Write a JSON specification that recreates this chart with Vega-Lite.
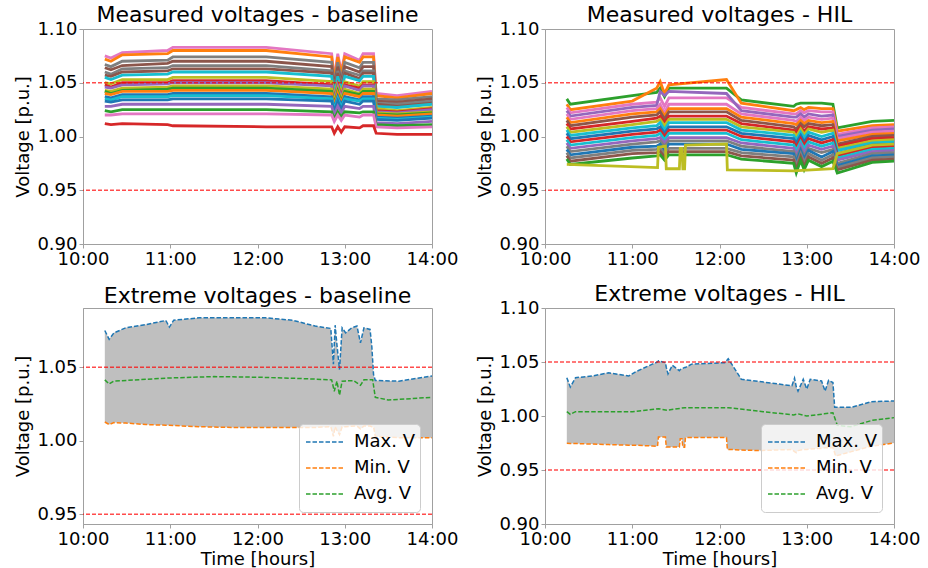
{
"$schema": "https://vega.github.io/schema/vega-lite/v6.json",
"padding": {"left": 14, "top": 3, "right": 2, "bottom": 2},
"config": {
 "font": "DejaVu Sans",
 "view": {"stroke": "#a0a0a0", "strokeWidth": 1},
 "axis": {"grid": false, "domainColor": "#a0a0a0", "tickColor": "#a0a0a0", "tickSize": 4, "labelFontSize": 18, "labelColor": "#000000", "titleFontSize": 18, "titleFontWeight": "normal", "titleColor": "#000000", "labelPadding": 2, "labelFlush": false, "labelOverlap": false},
 "title": {"fontSize": 22, "fontWeight": "normal", "color": "#000000", "frame": "group", "anchor": "middle"},
 "legend": {"title": null, "orient": "bottom-right", "offset": 12, "symbolType": "stroke", "symbolStrokeWidth": 1.5, "symbolDash": [4.5, 2], "symbolSize": 1369, "clipHeight": 26, "rowPadding": 0, "labelFontSize": 18, "labelColor": "#000000", "labelOffset": 10, "symbolOffset": 1, "fillColor": "rgba(255,255,255,0.8)", "strokeColor": "#cccccc", "cornerRadius": 4, "padding": 5}
},
"datasets": {
 "limits": [{"lim": 0.95}, {"lim": 1.05}],
 "base": [
  {"s":"b06","t":10.25,"v":1.075},{"s":"b06","t":10.32,"v":1.073},{"s":"b06","t":10.45,"v":1.078},{"s":"b06","t":10.97,"v":1.080},{"s":"b06","t":11.03,"v":1.083},{"s":"b06","t":12.1,"v":1.083},{"s":"b06","t":12.85,"v":1.077},{"s":"b06","t":12.88,"v":1.054},{"s":"b06","t":12.92,"v":1.077},{"s":"b06","t":12.96,"v":1.060},{"s":"b06","t":13.0,"v":1.077},{"s":"b06","t":13.17,"v":1.071},{"s":"b06","t":13.21,"v":1.077},{"s":"b06","t":13.33,"v":1.077},{"s":"b06","t":13.36,"v":1.040},{"s":"b06","t":13.6,"v":1.038},{"s":"b06","t":14.0,"v":1.042},
  {"s":"b01","t":10.25,"v":1.072},{"s":"b01","t":10.32,"v":1.070},{"s":"b01","t":10.45,"v":1.076},{"s":"b01","t":10.97,"v":1.077},{"s":"b01","t":11.03,"v":1.080},{"s":"b01","t":12.1,"v":1.080},{"s":"b01","t":12.85,"v":1.074},{"s":"b01","t":12.88,"v":1.052},{"s":"b01","t":12.92,"v":1.074},{"s":"b01","t":12.96,"v":1.058},{"s":"b01","t":13.0,"v":1.074},{"s":"b01","t":13.17,"v":1.069},{"s":"b01","t":13.21,"v":1.074},{"s":"b01","t":13.33,"v":1.074},{"s":"b01","t":13.36,"v":1.038},{"s":"b01","t":13.6,"v":1.036},{"s":"b01","t":14.0,"v":1.040},
  {"s":"b17","t":10.25,"v":1.067},{"s":"b17","t":10.32,"v":1.065},{"s":"b17","t":10.45,"v":1.070},{"s":"b17","t":10.97,"v":1.071},{"s":"b17","t":11.03,"v":1.074},{"s":"b17","t":12.1,"v":1.074},{"s":"b17","t":12.85,"v":1.069},{"s":"b17","t":12.88,"v":1.048},{"s":"b17","t":12.92,"v":1.069},{"s":"b17","t":12.96,"v":1.053},{"s":"b17","t":13.0,"v":1.069},{"s":"b17","t":13.17,"v":1.064},{"s":"b17","t":13.21,"v":1.069},{"s":"b17","t":13.33,"v":1.069},{"s":"b17","t":13.36,"v":1.035},{"s":"b17","t":13.6,"v":1.034},{"s":"b17","t":14.0,"v":1.037},
  {"s":"b05","t":10.25,"v":1.064},{"s":"b05","t":10.32,"v":1.062},{"s":"b05","t":10.45,"v":1.066},{"s":"b05","t":10.97,"v":1.068},{"s":"b05","t":11.03,"v":1.070},{"s":"b05","t":12.1,"v":1.070},{"s":"b05","t":12.85,"v":1.065},{"s":"b05","t":12.88,"v":1.046},{"s":"b05","t":12.92,"v":1.065},{"s":"b05","t":12.96,"v":1.050},{"s":"b05","t":13.0,"v":1.065},{"s":"b05","t":13.17,"v":1.060},{"s":"b05","t":13.21,"v":1.065},{"s":"b05","t":13.33,"v":1.065},{"s":"b05","t":13.36,"v":1.033},{"s":"b05","t":13.6,"v":1.032},{"s":"b05","t":14.0,"v":1.035},
  {"s":"b07","t":10.25,"v":1.060},{"s":"b07","t":10.32,"v":1.058},{"s":"b07","t":10.45,"v":1.063},{"s":"b07","t":10.97,"v":1.064},{"s":"b07","t":11.03,"v":1.066},{"s":"b07","t":12.1,"v":1.066},{"s":"b07","t":12.85,"v":1.061},{"s":"b07","t":12.88,"v":1.043},{"s":"b07","t":12.92,"v":1.061},{"s":"b07","t":12.96,"v":1.048},{"s":"b07","t":13.0,"v":1.061},{"s":"b07","t":13.17,"v":1.057},{"s":"b07","t":13.21,"v":1.061},{"s":"b07","t":13.33,"v":1.061},{"s":"b07","t":13.36,"v":1.031},{"s":"b07","t":13.6,"v":1.030},{"s":"b07","t":14.0,"v":1.033},
  {"s":"b15","t":10.25,"v":1.057},{"s":"b15","t":10.32,"v":1.056},{"s":"b15","t":10.45,"v":1.060},{"s":"b15","t":10.97,"v":1.061},{"s":"b15","t":11.03,"v":1.063},{"s":"b15","t":12.1,"v":1.063},{"s":"b15","t":12.85,"v":1.059},{"s":"b15","t":12.88,"v":1.041},{"s":"b15","t":12.92,"v":1.059},{"s":"b15","t":12.96,"v":1.045},{"s":"b15","t":13.0,"v":1.059},{"s":"b15","t":13.17,"v":1.054},{"s":"b15","t":13.21,"v":1.059},{"s":"b15","t":13.33,"v":1.059},{"s":"b15","t":13.36,"v":1.030},{"s":"b15","t":13.6,"v":1.028},{"s":"b15","t":14.0,"v":1.031},
  {"s":"b09","t":10.25,"v":1.055},{"s":"b09","t":10.32,"v":1.053},{"s":"b09","t":10.45,"v":1.057},{"s":"b09","t":10.97,"v":1.058},{"s":"b09","t":11.03,"v":1.060},{"s":"b09","t":12.1,"v":1.060},{"s":"b09","t":12.85,"v":1.056},{"s":"b09","t":12.88,"v":1.039},{"s":"b09","t":12.92,"v":1.056},{"s":"b09","t":12.96,"v":1.043},{"s":"b09","t":13.0,"v":1.056},{"s":"b09","t":13.17,"v":1.052},{"s":"b09","t":13.21,"v":1.056},{"s":"b09","t":13.33,"v":1.056},{"s":"b09","t":13.36,"v":1.028},{"s":"b09","t":13.6,"v":1.027},{"s":"b09","t":14.0,"v":1.030},
  {"s":"b08","t":10.25,"v":1.050},{"s":"b08","t":10.32,"v":1.049},{"s":"b08","t":10.45,"v":1.053},{"s":"b08","t":10.97,"v":1.053},{"s":"b08","t":11.03,"v":1.055},{"s":"b08","t":12.1,"v":1.055},{"s":"b08","t":12.85,"v":1.051},{"s":"b08","t":12.88,"v":1.036},{"s":"b08","t":12.92,"v":1.051},{"s":"b08","t":12.96,"v":1.040},{"s":"b08","t":13.0,"v":1.051},{"s":"b08","t":13.17,"v":1.047},{"s":"b08","t":13.21,"v":1.051},{"s":"b08","t":13.33,"v":1.051},{"s":"b08","t":13.36,"v":1.026},{"s":"b08","t":13.6,"v":1.024},{"s":"b08","t":14.0,"v":1.027},
  {"s":"b13","t":10.25,"v":1.048},{"s":"b13","t":10.32,"v":1.046},{"s":"b13","t":10.45,"v":1.050},{"s":"b13","t":10.97,"v":1.050},{"s":"b13","t":11.03,"v":1.052},{"s":"b13","t":12.1,"v":1.052},{"s":"b13","t":12.85,"v":1.048},{"s":"b13","t":12.88,"v":1.034},{"s":"b13","t":12.92,"v":1.048},{"s":"b13","t":12.96,"v":1.037},{"s":"b13","t":13.0,"v":1.048},{"s":"b13","t":13.17,"v":1.045},{"s":"b13","t":13.21,"v":1.048},{"s":"b13","t":13.33,"v":1.048},{"s":"b13","t":13.36,"v":1.024},{"s":"b13","t":13.6,"v":1.023},{"s":"b13","t":14.0,"v":1.026},
  {"s":"b04","t":10.25,"v":1.046},{"s":"b04","t":10.32,"v":1.045},{"s":"b04","t":10.45,"v":1.048},{"s":"b04","t":10.97,"v":1.049},{"s":"b04","t":11.03,"v":1.050},{"s":"b04","t":12.1,"v":1.050},{"s":"b04","t":12.85,"v":1.047},{"s":"b04","t":12.88,"v":1.033},{"s":"b04","t":12.92,"v":1.047},{"s":"b04","t":12.96,"v":1.036},{"s":"b04","t":13.0,"v":1.047},{"s":"b04","t":13.17,"v":1.043},{"s":"b04","t":13.21,"v":1.047},{"s":"b04","t":13.33,"v":1.047},{"s":"b04","t":13.36,"v":1.023},{"s":"b04","t":13.6,"v":1.022},{"s":"b04","t":14.0,"v":1.025},
  {"s":"b18","t":10.25,"v":1.043},{"s":"b18","t":10.32,"v":1.042},{"s":"b18","t":10.45,"v":1.045},{"s":"b18","t":10.97,"v":1.046},{"s":"b18","t":11.03,"v":1.047},{"s":"b18","t":12.1,"v":1.047},{"s":"b18","t":12.85,"v":1.044},{"s":"b18","t":12.88,"v":1.031},{"s":"b18","t":12.92,"v":1.044},{"s":"b18","t":12.96,"v":1.034},{"s":"b18","t":13.0,"v":1.044},{"s":"b18","t":13.17,"v":1.040},{"s":"b18","t":13.21,"v":1.044},{"s":"b18","t":13.33,"v":1.044},{"s":"b18","t":13.36,"v":1.022},{"s":"b18","t":13.6,"v":1.021},{"s":"b18","t":14.0,"v":1.023},
  {"s":"b02","t":10.25,"v":1.042},{"s":"b02","t":10.32,"v":1.040},{"s":"b02","t":10.45,"v":1.043},{"s":"b02","t":10.97,"v":1.044},{"s":"b02","t":11.03,"v":1.045},{"s":"b02","t":12.1,"v":1.045},{"s":"b02","t":12.85,"v":1.042},{"s":"b02","t":12.88,"v":1.029},{"s":"b02","t":12.92,"v":1.042},{"s":"b02","t":12.96,"v":1.032},{"s":"b02","t":13.0,"v":1.042},{"s":"b02","t":13.17,"v":1.039},{"s":"b02","t":13.21,"v":1.042},{"s":"b02","t":13.33,"v":1.042},{"s":"b02","t":13.36,"v":1.021},{"s":"b02","t":13.6,"v":1.020},{"s":"b02","t":14.0,"v":1.022},
  {"s":"b11","t":10.25,"v":1.040},{"s":"b11","t":10.32,"v":1.039},{"s":"b11","t":10.45,"v":1.042},{"s":"b11","t":10.97,"v":1.042},{"s":"b11","t":11.03,"v":1.043},{"s":"b11","t":12.1,"v":1.043},{"s":"b11","t":12.85,"v":1.040},{"s":"b11","t":12.88,"v":1.028},{"s":"b11","t":12.92,"v":1.040},{"s":"b11","t":12.96,"v":1.031},{"s":"b11","t":13.0,"v":1.040},{"s":"b11","t":13.17,"v":1.037},{"s":"b11","t":13.21,"v":1.040},{"s":"b11","t":13.33,"v":1.040},{"s":"b11","t":13.36,"v":1.020},{"s":"b11","t":13.6,"v":1.019},{"s":"b11","t":14.0,"v":1.021},
  {"s":"b00","t":10.25,"v":1.037},{"s":"b00","t":10.32,"v":1.036},{"s":"b00","t":10.45,"v":1.039},{"s":"b00","t":10.97,"v":1.039},{"s":"b00","t":11.03,"v":1.040},{"s":"b00","t":12.1,"v":1.040},{"s":"b00","t":12.85,"v":1.037},{"s":"b00","t":12.88,"v":1.026},{"s":"b00","t":12.92,"v":1.037},{"s":"b00","t":12.96,"v":1.029},{"s":"b00","t":13.0,"v":1.037},{"s":"b00","t":13.17,"v":1.034},{"s":"b00","t":13.21,"v":1.037},{"s":"b00","t":13.33,"v":1.037},{"s":"b00","t":13.36,"v":1.018},{"s":"b00","t":13.6,"v":1.017},{"s":"b00","t":14.0,"v":1.019},
  {"s":"b19","t":10.25,"v":1.035},{"s":"b19","t":10.32,"v":1.034},{"s":"b19","t":10.45,"v":1.037},{"s":"b19","t":10.97,"v":1.037},{"s":"b19","t":11.03,"v":1.038},{"s":"b19","t":12.1,"v":1.038},{"s":"b19","t":12.85,"v":1.035},{"s":"b19","t":12.88,"v":1.025},{"s":"b19","t":12.92,"v":1.035},{"s":"b19","t":12.96,"v":1.027},{"s":"b19","t":13.0,"v":1.035},{"s":"b19","t":13.17,"v":1.033},{"s":"b19","t":13.21,"v":1.035},{"s":"b19","t":13.33,"v":1.035},{"s":"b19","t":13.36,"v":1.017},{"s":"b19","t":13.6,"v":1.016},{"s":"b19","t":14.0,"v":1.018},
  {"s":"b10","t":10.25,"v":1.033},{"s":"b10","t":10.32,"v":1.032},{"s":"b10","t":10.45,"v":1.034},{"s":"b10","t":10.97,"v":1.034},{"s":"b10","t":11.03,"v":1.035},{"s":"b10","t":12.1,"v":1.035},{"s":"b10","t":12.85,"v":1.033},{"s":"b10","t":12.88,"v":1.023},{"s":"b10","t":12.92,"v":1.033},{"s":"b10","t":12.96,"v":1.025},{"s":"b10","t":13.0,"v":1.033},{"s":"b10","t":13.17,"v":1.030},{"s":"b10","t":13.21,"v":1.033},{"s":"b10","t":13.33,"v":1.033},{"s":"b10","t":13.36,"v":1.016},{"s":"b10","t":13.6,"v":1.015},{"s":"b10","t":14.0,"v":1.017},
  {"s":"b14","t":10.25,"v":1.028},{"s":"b14","t":10.32,"v":1.028},{"s":"b14","t":10.45,"v":1.030},{"s":"b14","t":10.97,"v":1.030},{"s":"b14","t":11.03,"v":1.030},{"s":"b14","t":12.1,"v":1.030},{"s":"b14","t":12.85,"v":1.028},{"s":"b14","t":12.88,"v":1.020},{"s":"b14","t":12.92,"v":1.028},{"s":"b14","t":12.96,"v":1.022},{"s":"b14","t":13.0,"v":1.028},{"s":"b14","t":13.17,"v":1.026},{"s":"b14","t":13.21,"v":1.028},{"s":"b14","t":13.33,"v":1.028},{"s":"b14","t":13.36,"v":1.013},{"s":"b14","t":13.6,"v":1.012},{"s":"b14","t":14.0,"v":1.014},
  {"s":"b12","t":10.25,"v":1.024},{"s":"b12","t":10.32,"v":1.023},{"s":"b12","t":10.45,"v":1.025},{"s":"b12","t":10.97,"v":1.025},{"s":"b12","t":11.03,"v":1.025},{"s":"b12","t":12.1,"v":1.025},{"s":"b12","t":12.85,"v":1.023},{"s":"b12","t":12.88,"v":1.016},{"s":"b12","t":12.92,"v":1.023},{"s":"b12","t":12.96,"v":1.018},{"s":"b12","t":13.0,"v":1.023},{"s":"b12","t":13.17,"v":1.022},{"s":"b12","t":13.21,"v":1.023},{"s":"b12","t":13.33,"v":1.023},{"s":"b12","t":13.36,"v":1.011},{"s":"b12","t":13.6,"v":1.010},{"s":"b12","t":14.0,"v":1.011},
  {"s":"b16","t":10.25,"v":1.020},{"s":"b16","t":10.32,"v":1.020},{"s":"b16","t":10.45,"v":1.021},{"s":"b16","t":10.97,"v":1.021},{"s":"b16","t":11.03,"v":1.021},{"s":"b16","t":12.1,"v":1.021},{"s":"b16","t":12.85,"v":1.020},{"s":"b16","t":12.88,"v":1.014},{"s":"b16","t":12.92,"v":1.020},{"s":"b16","t":12.96,"v":1.015},{"s":"b16","t":13.0,"v":1.020},{"s":"b16","t":13.17,"v":1.018},{"s":"b16","t":13.21,"v":1.020},{"s":"b16","t":13.33,"v":1.020},{"s":"b16","t":13.36,"v":1.009},{"s":"b16","t":13.6,"v":1.008},{"s":"b16","t":14.0,"v":1.009},
  {"s":"b03","t":10.25,"v":1.012},{"s":"b03","t":10.32,"v":1.011},{"s":"b03","t":10.45,"v":1.012},{"s":"b03","t":10.97,"v":1.011},{"s":"b03","t":11.03,"v":1.010},{"s":"b03","t":12.1,"v":1.009},{"s":"b03","t":12.85,"v":1.009},{"s":"b03","t":12.88,"v":1.003},{"s":"b03","t":12.92,"v":1.009},{"s":"b03","t":12.96,"v":1.004},{"s":"b03","t":13.0,"v":1.009},{"s":"b03","t":13.17,"v":1.008},{"s":"b03","t":13.21,"v":1.010},{"s":"b03","t":13.33,"v":1.010},{"s":"b03","t":13.36,"v":1.003},{"s":"b03","t":13.6,"v":1.002},{"s":"b03","t":14.0,"v":1.002}
 ],
 "hil": [
  {"s":"h02","t":10.25,"v":1.035},{"s":"h02","t":10.29,"v":1.030},{"s":"h02","t":11.0,"v":1.038},{"s":"h02","t":11.28,"v":1.041},{"s":"h02","t":11.32,"v":1.045},{"s":"h02","t":11.37,"v":1.037},{"s":"h02","t":11.42,"v":1.045},{"s":"h02","t":12.08,"v":1.045},{"s":"h02","t":12.25,"v":1.034},{"s":"h02","t":12.85,"v":1.028},{"s":"h02","t":12.88,"v":1.030},{"s":"h02","t":12.93,"v":1.031},{"s":"h02","t":12.97,"v":1.031},{"s":"h02","t":13.02,"v":1.031},{"s":"h02","t":13.17,"v":1.031},{"s":"h02","t":13.3,"v":1.030},{"s":"h02","t":13.35,"v":1.008},{"s":"h02","t":13.75,"v":1.014},{"s":"h02","t":14.0,"v":1.015},
  {"s":"h01","t":10.25,"v":1.030},{"s":"h01","t":10.29,"v":1.025},{"s":"h01","t":11.0,"v":1.033},{"s":"h01","t":11.28,"v":1.045},{"s":"h01","t":11.32,"v":1.051},{"s":"h01","t":11.37,"v":1.040},{"s":"h01","t":11.42,"v":1.048},{"s":"h01","t":12.08,"v":1.053},{"s":"h01","t":12.25,"v":1.031},{"s":"h01","t":12.85,"v":1.024},{"s":"h01","t":12.88,"v":1.025},{"s":"h01","t":12.93,"v":1.027},{"s":"h01","t":12.97,"v":1.025},{"s":"h01","t":13.02,"v":1.027},{"s":"h01","t":13.17,"v":1.026},{"s":"h01","t":13.3,"v":1.026},{"s":"h01","t":13.35,"v":1.005},{"s":"h01","t":13.75,"v":1.010},{"s":"h01","t":14.0,"v":1.011},
  {"s":"h16","t":10.25,"v":1.027},{"s":"h16","t":10.29,"v":1.022},{"s":"h16","t":11.0,"v":1.030},{"s":"h16","t":11.28,"v":1.032},{"s":"h16","t":11.32,"v":1.036},{"s":"h16","t":11.37,"v":1.028},{"s":"h16","t":11.42,"v":1.036},{"s":"h16","t":12.08,"v":1.036},{"s":"h16","t":12.25,"v":1.027},{"s":"h16","t":12.85,"v":1.021},{"s":"h16","t":12.88,"v":1.021},{"s":"h16","t":12.93,"v":1.024},{"s":"h16","t":12.97,"v":1.022},{"s":"h16","t":13.02,"v":1.024},{"s":"h16","t":13.17,"v":1.023},{"s":"h16","t":13.3,"v":1.023},{"s":"h16","t":13.35,"v":1.002},{"s":"h16","t":13.75,"v":1.008},{"s":"h16","t":14.0,"v":1.009},
  {"s":"h04","t":10.25,"v":1.024},{"s":"h04","t":10.29,"v":1.019},{"s":"h04","t":11.0,"v":1.027},{"s":"h04","t":11.28,"v":1.029},{"s":"h04","t":11.32,"v":1.042},{"s":"h04","t":11.37,"v":1.038},{"s":"h04","t":11.42,"v":1.042},{"s":"h04","t":12.08,"v":1.040},{"s":"h04","t":12.25,"v":1.024},{"s":"h04","t":12.85,"v":1.018},{"s":"h04","t":12.88,"v":1.018},{"s":"h04","t":12.93,"v":1.021},{"s":"h04","t":12.97,"v":1.018},{"s":"h04","t":13.02,"v":1.021},{"s":"h04","t":13.17,"v":1.019},{"s":"h04","t":13.3,"v":1.020},{"s":"h04","t":13.35,"v":1.000},{"s":"h04","t":13.75,"v":1.006},{"s":"h04","t":14.0,"v":1.007},
  {"s":"h06","t":10.25,"v":1.021},{"s":"h06","t":10.29,"v":1.016},{"s":"h06","t":11.0,"v":1.024},{"s":"h06","t":11.28,"v":1.026},{"s":"h06","t":11.32,"v":1.030},{"s":"h06","t":11.37,"v":1.022},{"s":"h06","t":11.42,"v":1.030},{"s":"h06","t":12.08,"v":1.030},{"s":"h06","t":12.25,"v":1.021},{"s":"h06","t":12.85,"v":1.015},{"s":"h06","t":12.88,"v":1.014},{"s":"h06","t":12.93,"v":1.018},{"s":"h06","t":12.97,"v":1.015},{"s":"h06","t":13.02,"v":1.018},{"s":"h06","t":13.17,"v":1.016},{"s":"h06","t":13.3,"v":1.017},{"s":"h06","t":13.35,"v":0.998},{"s":"h06","t":13.75,"v":1.004},{"s":"h06","t":14.0,"v":1.005},
  {"s":"h11","t":10.25,"v":1.018},{"s":"h11","t":10.29,"v":1.013},{"s":"h11","t":11.0,"v":1.021},{"s":"h11","t":11.28,"v":1.023},{"s":"h11","t":11.32,"v":1.026},{"s":"h11","t":11.37,"v":1.019},{"s":"h11","t":11.42,"v":1.026},{"s":"h11","t":12.08,"v":1.026},{"s":"h11","t":12.25,"v":1.018},{"s":"h11","t":12.85,"v":1.012},{"s":"h11","t":12.88,"v":1.011},{"s":"h11","t":12.93,"v":1.015},{"s":"h11","t":12.97,"v":1.012},{"s":"h11","t":13.02,"v":1.015},{"s":"h11","t":13.17,"v":1.013},{"s":"h11","t":13.3,"v":1.014},{"s":"h11","t":13.35,"v":0.996},{"s":"h11","t":13.75,"v":1.002},{"s":"h11","t":14.0,"v":1.003},
  {"s":"h15","t":10.25,"v":1.015},{"s":"h15","t":10.29,"v":1.010},{"s":"h15","t":11.0,"v":1.018},{"s":"h15","t":11.28,"v":1.020},{"s":"h15","t":11.32,"v":1.023},{"s":"h15","t":11.37,"v":1.016},{"s":"h15","t":11.42,"v":1.023},{"s":"h15","t":12.08,"v":1.023},{"s":"h15","t":12.25,"v":1.015},{"s":"h15","t":12.85,"v":1.009},{"s":"h15","t":12.88,"v":1.007},{"s":"h15","t":12.93,"v":1.012},{"s":"h15","t":12.97,"v":1.009},{"s":"h15","t":13.02,"v":1.012},{"s":"h15","t":13.17,"v":1.010},{"s":"h15","t":13.3,"v":1.011},{"s":"h15","t":13.35,"v":0.993},{"s":"h15","t":13.75,"v":1.000},{"s":"h15","t":14.0,"v":1.001},
  {"s":"h03","t":10.25,"v":1.012},{"s":"h03","t":10.29,"v":1.007},{"s":"h03","t":11.0,"v":1.014},{"s":"h03","t":11.28,"v":1.017},{"s":"h03","t":11.32,"v":1.019},{"s":"h03","t":11.37,"v":1.013},{"s":"h03","t":11.42,"v":1.019},{"s":"h03","t":12.08,"v":1.019},{"s":"h03","t":12.25,"v":1.012},{"s":"h03","t":12.85,"v":1.006},{"s":"h03","t":12.88,"v":1.004},{"s":"h03","t":12.93,"v":1.009},{"s":"h03","t":12.97,"v":1.005},{"s":"h03","t":13.02,"v":1.009},{"s":"h03","t":13.17,"v":1.007},{"s":"h03","t":13.3,"v":1.008},{"s":"h03","t":13.35,"v":0.991},{"s":"h03","t":13.75,"v":0.998},{"s":"h03","t":14.0,"v":0.999},
  {"s":"h18","t":10.25,"v":1.009},{"s":"h18","t":10.29,"v":1.004},{"s":"h18","t":11.0,"v":1.011},{"s":"h18","t":11.28,"v":1.014},{"s":"h18","t":11.32,"v":1.016},{"s":"h18","t":11.37,"v":1.010},{"s":"h18","t":11.42,"v":1.016},{"s":"h18","t":12.08,"v":1.016},{"s":"h18","t":12.25,"v":1.009},{"s":"h18","t":12.85,"v":1.004},{"s":"h18","t":12.88,"v":1.000},{"s":"h18","t":12.93,"v":1.007},{"s":"h18","t":12.97,"v":1.002},{"s":"h18","t":13.02,"v":1.007},{"s":"h18","t":13.17,"v":1.004},{"s":"h18","t":13.3,"v":1.006},{"s":"h18","t":13.35,"v":0.989},{"s":"h18","t":13.75,"v":0.996},{"s":"h18","t":14.0,"v":0.997},
  {"s":"h09","t":10.25,"v":1.006},{"s":"h09","t":10.29,"v":1.001},{"s":"h09","t":11.0,"v":1.008},{"s":"h09","t":11.28,"v":1.010},{"s":"h09","t":11.32,"v":1.013},{"s":"h09","t":11.37,"v":1.006},{"s":"h09","t":11.42,"v":1.013},{"s":"h09","t":12.08,"v":1.013},{"s":"h09","t":12.25,"v":1.006},{"s":"h09","t":12.85,"v":1.001},{"s":"h09","t":12.88,"v":0.997},{"s":"h09","t":12.93,"v":1.004},{"s":"h09","t":12.97,"v":0.999},{"s":"h09","t":13.02,"v":1.004},{"s":"h09","t":13.17,"v":1.000},{"s":"h09","t":13.3,"v":1.003},{"s":"h09","t":13.35,"v":0.987},{"s":"h09","t":13.75,"v":0.994},{"s":"h09","t":14.0,"v":0.995},
  {"s":"h00","t":10.25,"v":1.003},{"s":"h00","t":10.29,"v":0.998},{"s":"h00","t":11.0,"v":1.005},{"s":"h00","t":11.28,"v":1.007},{"s":"h00","t":11.32,"v":1.009},{"s":"h00","t":11.37,"v":1.003},{"s":"h00","t":11.42,"v":1.009},{"s":"h00","t":12.08,"v":1.009},{"s":"h00","t":12.25,"v":1.003},{"s":"h00","t":12.85,"v":0.998},{"s":"h00","t":12.88,"v":0.994},{"s":"h00","t":12.93,"v":1.001},{"s":"h00","t":12.97,"v":0.995},{"s":"h00","t":13.02,"v":1.001},{"s":"h00","t":13.17,"v":0.997},{"s":"h00","t":13.3,"v":1.000},{"s":"h00","t":13.35,"v":0.984},{"s":"h00","t":13.75,"v":0.992},{"s":"h00","t":14.0,"v":0.993},
  {"s":"h13","t":10.25,"v":1.000},{"s":"h13","t":10.29,"v":0.995},{"s":"h13","t":11.0,"v":1.002},{"s":"h13","t":11.28,"v":1.004},{"s":"h13","t":11.32,"v":1.006},{"s":"h13","t":11.37,"v":1.000},{"s":"h13","t":11.42,"v":1.006},{"s":"h13","t":12.08,"v":1.006},{"s":"h13","t":12.25,"v":1.000},{"s":"h13","t":12.85,"v":0.995},{"s":"h13","t":12.88,"v":0.990},{"s":"h13","t":12.93,"v":0.998},{"s":"h13","t":12.97,"v":0.992},{"s":"h13","t":13.02,"v":0.998},{"s":"h13","t":13.17,"v":0.994},{"s":"h13","t":13.3,"v":0.997},{"s":"h13","t":13.35,"v":0.982},{"s":"h13","t":13.75,"v":0.990},{"s":"h13","t":14.0,"v":0.991},
  {"s":"h19","t":10.25,"v":0.997},{"s":"h19","t":10.29,"v":0.992},{"s":"h19","t":11.0,"v":0.999},{"s":"h19","t":11.28,"v":1.001},{"s":"h19","t":11.32,"v":1.003},{"s":"h19","t":11.37,"v":0.997},{"s":"h19","t":11.42,"v":1.003},{"s":"h19","t":12.08,"v":1.003},{"s":"h19","t":12.25,"v":0.997},{"s":"h19","t":12.85,"v":0.992},{"s":"h19","t":12.88,"v":0.987},{"s":"h19","t":12.93,"v":0.995},{"s":"h19","t":12.97,"v":0.989},{"s":"h19","t":13.02,"v":0.995},{"s":"h19","t":13.17,"v":0.991},{"s":"h19","t":13.3,"v":0.994},{"s":"h19","t":13.35,"v":0.980},{"s":"h19","t":13.75,"v":0.988},{"s":"h19","t":14.0,"v":0.989},
  {"s":"h14","t":10.25,"v":0.994},{"s":"h14","t":10.29,"v":0.989},{"s":"h14","t":11.0,"v":0.996},{"s":"h14","t":11.28,"v":0.998},{"s":"h14","t":11.32,"v":0.999},{"s":"h14","t":11.37,"v":0.994},{"s":"h14","t":11.42,"v":0.999},{"s":"h14","t":12.08,"v":0.999},{"s":"h14","t":12.25,"v":0.994},{"s":"h14","t":12.85,"v":0.989},{"s":"h14","t":12.88,"v":0.983},{"s":"h14","t":12.93,"v":0.992},{"s":"h14","t":12.97,"v":0.985},{"s":"h14","t":13.02,"v":0.992},{"s":"h14","t":13.17,"v":0.988},{"s":"h14","t":13.3,"v":0.991},{"s":"h14","t":13.35,"v":0.978},{"s":"h14","t":13.75,"v":0.986},{"s":"h14","t":14.0,"v":0.987},
  {"s":"h07","t":10.25,"v":0.991},{"s":"h07","t":10.29,"v":0.986},{"s":"h07","t":11.0,"v":0.993},{"s":"h07","t":11.28,"v":0.995},{"s":"h07","t":11.32,"v":0.996},{"s":"h07","t":11.37,"v":0.991},{"s":"h07","t":11.42,"v":0.996},{"s":"h07","t":12.08,"v":0.996},{"s":"h07","t":12.25,"v":0.991},{"s":"h07","t":12.85,"v":0.986},{"s":"h07","t":12.88,"v":0.980},{"s":"h07","t":12.93,"v":0.989},{"s":"h07","t":12.97,"v":0.982},{"s":"h07","t":13.02,"v":0.989},{"s":"h07","t":13.17,"v":0.985},{"s":"h07","t":13.3,"v":0.988},{"s":"h07","t":13.35,"v":0.975},{"s":"h07","t":13.75,"v":0.984},{"s":"h07","t":14.0,"v":0.985},
  {"s":"h10","t":10.25,"v":0.988},{"s":"h10","t":10.29,"v":0.983},{"s":"h10","t":11.0,"v":0.990},{"s":"h10","t":11.28,"v":0.991},{"s":"h10","t":11.32,"v":0.993},{"s":"h10","t":11.37,"v":0.987},{"s":"h10","t":11.42,"v":0.993},{"s":"h10","t":12.08,"v":0.993},{"s":"h10","t":12.25,"v":0.988},{"s":"h10","t":12.85,"v":0.984},{"s":"h10","t":12.88,"v":0.976},{"s":"h10","t":12.93,"v":0.987},{"s":"h10","t":12.97,"v":0.979},{"s":"h10","t":13.02,"v":0.987},{"s":"h10","t":13.17,"v":0.981},{"s":"h10","t":13.3,"v":0.986},{"s":"h10","t":13.35,"v":0.973},{"s":"h10","t":13.75,"v":0.982},{"s":"h10","t":14.0,"v":0.983},
  {"s":"h17","t":10.25,"v":0.985},{"s":"h17","t":10.29,"v":0.980},{"s":"h17","t":11.0,"v":0.987},{"s":"h17","t":11.28,"v":0.988},{"s":"h17","t":11.32,"v":0.989},{"s":"h17","t":11.37,"v":0.984},{"s":"h17","t":11.42,"v":0.989},{"s":"h17","t":12.08,"v":0.989},{"s":"h17","t":12.25,"v":0.985},{"s":"h17","t":12.85,"v":0.981},{"s":"h17","t":12.88,"v":0.973},{"s":"h17","t":12.93,"v":0.984},{"s":"h17","t":12.97,"v":0.976},{"s":"h17","t":13.02,"v":0.984},{"s":"h17","t":13.17,"v":0.978},{"s":"h17","t":13.3,"v":0.983},{"s":"h17","t":13.35,"v":0.971},{"s":"h17","t":13.75,"v":0.980},{"s":"h17","t":14.0,"v":0.981},
  {"s":"h05","t":10.25,"v":0.982},{"s":"h05","t":10.29,"v":0.977},{"s":"h05","t":11.0,"v":0.984},{"s":"h05","t":11.28,"v":0.985},{"s":"h05","t":11.32,"v":0.986},{"s":"h05","t":11.37,"v":0.981},{"s":"h05","t":11.42,"v":0.986},{"s":"h05","t":12.08,"v":0.986},{"s":"h05","t":12.25,"v":0.982},{"s":"h05","t":12.85,"v":0.978},{"s":"h05","t":12.88,"v":0.969},{"s":"h05","t":12.93,"v":0.981},{"s":"h05","t":12.97,"v":0.972},{"s":"h05","t":13.02,"v":0.981},{"s":"h05","t":13.17,"v":0.975},{"s":"h05","t":13.3,"v":0.980},{"s":"h05","t":13.35,"v":0.969},{"s":"h05","t":13.75,"v":0.978},{"s":"h05","t":14.0,"v":0.979},
  {"s":"h12","t":10.25,"v":0.979},{"s":"h12","t":10.29,"v":0.974},{"s":"h12","t":11.0,"v":0.980},{"s":"h12","t":11.28,"v":0.982},{"s":"h12","t":11.32,"v":0.983},{"s":"h12","t":11.37,"v":0.978},{"s":"h12","t":11.42,"v":0.983},{"s":"h12","t":12.08,"v":0.983},{"s":"h12","t":12.25,"v":0.979},{"s":"h12","t":12.85,"v":0.975},{"s":"h12","t":12.88,"v":0.966},{"s":"h12","t":12.93,"v":0.978},{"s":"h12","t":12.97,"v":0.969},{"s":"h12","t":13.02,"v":0.978},{"s":"h12","t":13.17,"v":0.972},{"s":"h12","t":13.3,"v":0.977},{"s":"h12","t":13.35,"v":0.966},{"s":"h12","t":13.75,"v":0.976},{"s":"h12","t":14.0,"v":0.977},
  {"s":"h08","t":10.25,"v":0.974},{"s":"h08","t":11.29,"v":0.971},{"s":"h08","t":11.30,"v":0.990},{"s":"h08","t":11.38,"v":0.991},{"s":"h08","t":11.39,"v":0.970},{"s":"h08","t":11.54,"v":0.970},{"s":"h08","t":11.55,"v":0.989},{"s":"h08","t":11.57,"v":0.989},{"s":"h08","t":11.58,"v":0.970},{"s":"h08","t":11.60,"v":0.970},{"s":"h08","t":11.61,"v":0.992},{"s":"h08","t":12.08,"v":0.993},{"s":"h08","t":12.09,"v":0.969},{"s":"h08","t":12.85,"v":0.968},{"s":"h08","t":13.3,"v":0.970},{"s":"h08","t":13.35,"v":0.984},{"s":"h08","t":13.75,"v":0.992},{"s":"h08","t":14.0,"v":0.993}
 ],
 "extBase": [
  {"k":"max","t":10.25,"v":1.075},{"k":"max","t":10.30,"v":1.069},{"k":"max","t":10.355,"v":1.0734},{"k":"max","t":10.49,"v":1.0768},{"k":"max","t":10.72,"v":1.079},{"k":"max","t":10.95,"v":1.0818},{"k":"max","t":10.99,"v":1.0773},{"k":"max","t":11.04,"v":1.082},{"k":"max","t":11.33,"v":1.0836},{"k":"max","t":11.71,"v":1.0836},{"k":"max","t":12.09,"v":1.0836},{"k":"max","t":12.40,"v":1.082},{"k":"max","t":12.66,"v":1.078},{"k":"max","t":12.84,"v":1.0764},{"k":"max","t":12.87,"v":1.052},{"k":"max","t":12.89,"v":1.0786},{"k":"max","t":12.91,"v":1.0655},{"k":"max","t":12.94,"v":1.0484},{"k":"max","t":12.97,"v":1.0768},{"k":"max","t":13.01,"v":1.0734},{"k":"max","t":13.08,"v":1.0768},{"k":"max","t":13.14,"v":1.078},{"k":"max","t":13.18,"v":1.0666},{"k":"max","t":13.22,"v":1.0768},{"k":"max","t":13.29,"v":1.0757},{"k":"max","t":13.31,"v":1.0643},{"k":"max","t":13.33,"v":1.045},{"k":"max","t":13.35,"v":1.041},{"k":"max","t":13.62,"v":1.0405},{"k":"max","t":14.0,"v":1.044},
  {"k":"min","t":10.25,"v":1.0127},{"k":"min","t":10.30,"v":1.011},{"k":"min","t":10.355,"v":1.0123},{"k":"min","t":10.49,"v":1.012},{"k":"min","t":10.72,"v":1.011},{"k":"min","t":10.95,"v":1.0105},{"k":"min","t":10.99,"v":1.0105},{"k":"min","t":11.04,"v":1.0103},{"k":"min","t":11.33,"v":1.0095},{"k":"min","t":11.71,"v":1.009},{"k":"min","t":12.09,"v":1.009},{"k":"min","t":12.40,"v":1.009},{"k":"min","t":12.66,"v":1.009},{"k":"min","t":12.84,"v":1.0095},{"k":"min","t":12.87,"v":1.003},{"k":"min","t":12.89,"v":1.0095},{"k":"min","t":12.91,"v":1.007},{"k":"min","t":12.94,"v":1.004},{"k":"min","t":12.97,"v":1.0095},{"k":"min","t":13.01,"v":1.0095},{"k":"min","t":13.08,"v":1.0098},{"k":"min","t":13.14,"v":1.010},{"k":"min","t":13.18,"v":1.008},{"k":"min","t":13.22,"v":1.010},{"k":"min","t":13.29,"v":1.010},{"k":"min","t":13.31,"v":1.0095},{"k":"min","t":13.33,"v":1.0095},{"k":"min","t":13.35,"v":1.003},{"k":"min","t":13.62,"v":1.002},{"k":"min","t":14.0,"v":1.002},
  {"k":"avg","t":10.25,"v":1.0414},{"k":"avg","t":10.30,"v":1.0386},{"k":"avg","t":10.35,"v":1.0405},{"k":"avg","t":11.0,"v":1.0427},{"k":"avg","t":11.5,"v":1.0436},{"k":"avg","t":12.0,"v":1.0432},{"k":"avg","t":12.5,"v":1.0423},{"k":"avg","t":12.85,"v":1.0414},{"k":"avg","t":12.88,"v":1.0336},{"k":"avg","t":12.91,"v":1.0405},{"k":"avg","t":12.94,"v":1.031},{"k":"avg","t":12.97,"v":1.0405},{"k":"avg","t":13.1,"v":1.0409},{"k":"avg","t":13.18,"v":1.0377},{"k":"avg","t":13.22,"v":1.0414},{"k":"avg","t":13.32,"v":1.0414},{"k":"avg","t":13.35,"v":1.0295},{"k":"avg","t":13.5,"v":1.0277},{"k":"avg","t":14.0,"v":1.0295}
 ],
 "extHil": [
  {"k":"max","t":10.25,"v":1.0355},{"k":"max","t":10.29,"v":1.0269},{"k":"max","t":10.35,"v":1.0355},{"k":"max","t":10.54,"v":1.037},{"k":"max","t":10.73,"v":1.040},{"k":"max","t":10.96,"v":1.037},{"k":"max","t":11.04,"v":1.041},{"k":"max","t":11.23,"v":1.048},{"k":"max","t":11.29,"v":1.050},{"k":"max","t":11.30,"v":1.051},{"k":"max","t":11.38,"v":1.0494},{"k":"max","t":11.39,"v":1.045},{"k":"max","t":11.41,"v":1.039},{"k":"max","t":11.46,"v":1.047},{"k":"max","t":11.54,"v":1.042},{"k":"max","t":11.55,"v":1.043},{"k":"max","t":11.57,"v":1.044},{"k":"max","t":11.58,"v":1.044},{"k":"max","t":11.60,"v":1.045},{"k":"max","t":11.61,"v":1.045},{"k":"max","t":11.68,"v":1.048},{"k":"max","t":12.06,"v":1.0494},{"k":"max","t":12.08,"v":1.051},{"k":"max","t":12.09,"v":1.052},{"k":"max","t":12.10,"v":1.053},{"k":"max","t":12.18,"v":1.043},{"k":"max","t":12.25,"v":1.034},{"k":"max","t":12.45,"v":1.032},{"k":"max","t":12.83,"v":1.028},{"k":"max","t":12.86,"v":1.035},{"k":"max","t":12.88,"v":1.027},{"k":"max","t":12.90,"v":1.023},{"k":"max","t":12.96,"v":1.034},{"k":"max","t":13.00,"v":1.025},{"k":"max","t":13.04,"v":1.034},{"k":"max","t":13.17,"v":1.0324},{"k":"max","t":13.21,"v":1.023},{"k":"max","t":13.25,"v":1.033},{"k":"max","t":13.30,"v":1.031},{"k":"max","t":13.32,"v":1.008},{"k":"max","t":13.33,"v":1.008},{"k":"max","t":13.51,"v":1.008},{"k":"max","t":13.74,"v":1.0133},{"k":"max","t":14.0,"v":1.0139},
  {"k":"min","t":10.25,"v":0.9747},{"k":"min","t":10.29,"v":0.9745},{"k":"min","t":10.35,"v":0.9745},{"k":"min","t":10.54,"v":0.974},{"k":"min","t":10.73,"v":0.9735},{"k":"min","t":10.96,"v":0.973},{"k":"min","t":11.04,"v":0.973},{"k":"min","t":11.23,"v":0.9722},{"k":"min","t":11.29,"v":0.972},{"k":"min","t":11.30,"v":0.9806},{"k":"min","t":11.38,"v":0.9806},{"k":"min","t":11.39,"v":0.9713},{"k":"min","t":11.41,"v":0.9713},{"k":"min","t":11.46,"v":0.9713},{"k":"min","t":11.54,"v":0.9713},{"k":"min","t":11.55,"v":0.979},{"k":"min","t":11.57,"v":0.979},{"k":"min","t":11.58,"v":0.971},{"k":"min","t":11.60,"v":0.971},{"k":"min","t":11.61,"v":0.980},{"k":"min","t":11.68,"v":0.980},{"k":"min","t":12.06,"v":0.980},{"k":"min","t":12.08,"v":0.980},{"k":"min","t":12.09,"v":0.969},{"k":"min","t":12.10,"v":0.969},{"k":"min","t":12.18,"v":0.9688},{"k":"min","t":12.25,"v":0.9685},{"k":"min","t":12.45,"v":0.968},{"k":"min","t":12.83,"v":0.969},{"k":"min","t":12.86,"v":0.967},{"k":"min","t":12.88,"v":0.966},{"k":"min","t":12.90,"v":0.968},{"k":"min","t":12.96,"v":0.969},{"k":"min","t":13.00,"v":0.969},{"k":"min","t":13.04,"v":0.9695},{"k":"min","t":13.17,"v":0.970},{"k":"min","t":13.21,"v":0.9705},{"k":"min","t":13.25,"v":0.9705},{"k":"min","t":13.30,"v":0.9707},{"k":"min","t":13.32,"v":0.966},{"k":"min","t":13.33,"v":0.963},{"k":"min","t":13.51,"v":0.967},{"k":"min","t":13.74,"v":0.972},{"k":"min","t":14.0,"v":0.975},
  {"k":"avg","t":10.25,"v":1.004},{"k":"avg","t":10.29,"v":1.0015},{"k":"avg","t":10.35,"v":1.004},{"k":"avg","t":11.0,"v":1.004},{"k":"avg","t":11.3,"v":1.0068},{"k":"avg","t":11.4,"v":1.0053},{"k":"avg","t":11.6,"v":1.0077},{"k":"avg","t":12.1,"v":1.0077},{"k":"avg","t":12.5,"v":1.004},{"k":"avg","t":12.85,"v":1.001},{"k":"avg","t":12.9,"v":1.002},{"k":"avg","t":13.0,"v":1.000},{"k":"avg","t":13.2,"v":1.002},{"k":"avg","t":13.3,"v":1.003},{"k":"avg","t":13.35,"v":0.9914},{"k":"avg","t":13.5,"v":0.990},{"k":"avg","t":13.75,"v":0.996},{"k":"avg","t":14.0,"v":0.9985}
 ]
},
"columns": 2,
"spacing": {"row": 64, "column": 113},
"bounds": "flush",
"resolve": {"scale": {"color": "independent"}},
"concat": [
 {
  "width": 349, "height": 215,
  "title": {"text": "Measured voltages - baseline", "offset": -7},
  "layer": [
   {"data": {"name": "base"}, "mark": {"type": "line", "strokeWidth": 2.8},
    "encoding": {
     "x": {"field": "t", "type": "quantitative", "scale": {"domain": [10, 14], "nice": false}, "axis": {"values": [10, 11, 12, 13, 14], "labelExpr": "datum.value + ':00'", "title": null}},
     "y": {"field": "v", "type": "quantitative", "scale": {"domain": [0.9, 1.1], "nice": false, "zero": false}, "axis": {"values": [0.9, 0.95, 1.0, 1.05, 1.1], "format": ".2f", "title": "Voltage [p.u.]", "titlePadding": 4}},
     "color": {"field": "s", "type": "nominal", "scale": {"range": ["#1f77b4","#ff7f0e","#2ca02c","#d62728","#9467bd","#8c564b","#e377c2","#7f7f7f","#bcbd22","#17becf"]}, "legend": null}
    }},
   {"data": {"name": "limits"}, "mark": {"type": "rule", "color": "#ff0000", "opacity": 0.7, "strokeDash": [4, 2], "strokeWidth": 1.5},
    "encoding": {"y": {"field": "lim", "type": "quantitative"}}}
  ]
 },
 {
  "width": 349, "height": 215,
  "title": {"text": "Measured voltages - HIL", "offset": -7},
  "layer": [
   {"data": {"name": "hil"}, "mark": {"type": "line", "strokeWidth": 2.8},
    "encoding": {
     "x": {"field": "t", "type": "quantitative", "scale": {"domain": [10, 14], "nice": false}, "axis": {"values": [10, 11, 12, 13, 14], "labelExpr": "datum.value + ':00'", "title": null}},
     "y": {"field": "v", "type": "quantitative", "scale": {"domain": [0.9, 1.1], "nice": false, "zero": false}, "axis": {"values": [0.9, 0.95, 1.0, 1.05, 1.1], "format": ".2f", "title": "Voltage [p.u.]", "titlePadding": 4}},
     "color": {"field": "s", "type": "nominal", "scale": {"range": ["#1f77b4","#ff7f0e","#2ca02c","#d62728","#9467bd","#8c564b","#e377c2","#7f7f7f","#bcbd22","#17becf"]}, "legend": null}
    }},
   {"data": {"name": "limits"}, "mark": {"type": "rule", "color": "#ff0000", "opacity": 0.7, "strokeDash": [4, 2], "strokeWidth": 1.5},
    "encoding": {"y": {"field": "lim", "type": "quantitative"}}}
  ]
 },
 {
  "width": 349, "height": 216,
  "title": {"text": "Extreme voltages - baseline", "offset": 0},
  "layer": [
   {"data": {"name": "extBase"},
    "transform": [{"pivot": "k", "value": "v", "groupby": ["t"]}, {"filter": "isValid(datum.max) && isValid(datum.min)"}],
    "mark": {"type": "area", "color": "#bfbfbf", "opacity": 1},
    "encoding": {
     "x": {"field": "t", "type": "quantitative", "scale": {"domain": [10, 14], "nice": false}, "axis": {"values": [10, 11, 12, 13, 14], "labelExpr": "datum.value + ':00'", "title": "Time [hours]", "titlePadding": 2}},
     "y": {"field": "min", "type": "quantitative", "scale": {"domain": [0.9433, 1.0903], "nice": false, "zero": false}, "axis": {"values": [0.95, 1.0, 1.05], "format": ".2f", "title": "Voltage [p.u.]", "titlePadding": 4}},
     "y2": {"field": "max"}
    }},
   {"data": {"name": "extBase"}, "mark": {"type": "line", "strokeWidth": 1.5, "strokeDash": [4.5, 2]},
    "encoding": {
     "x": {"field": "t", "type": "quantitative"},
     "y": {"field": "v", "type": "quantitative"},
     "color": {"field": "k", "type": "nominal", "scale": {"domain": ["max", "min", "avg"], "range": ["#1f77b4", "#ff7f0e", "#2ca02c"]},
      "legend": {"labelExpr": "datum.value == 'max' ? 'Max. V' : datum.value == 'min' ? 'Min. V' : 'Avg. V'"}}
    }},
   {"data": {"name": "limits"}, "mark": {"type": "rule", "color": "#ff0000", "opacity": 0.7, "strokeDash": [4, 2], "strokeWidth": 1.5},
    "encoding": {"y": {"field": "lim", "type": "quantitative"}}}
  ]
 },
 {
  "width": 349, "height": 216,
  "title": {"text": "Extreme voltages - HIL", "offset": -7},
  "layer": [
   {"data": {"name": "extHil"},
    "transform": [{"pivot": "k", "value": "v", "groupby": ["t"]}, {"filter": "isValid(datum.max) && isValid(datum.min)"}],
    "mark": {"type": "area", "color": "#bfbfbf", "opacity": 1},
    "encoding": {
     "x": {"field": "t", "type": "quantitative", "scale": {"domain": [10, 14], "nice": false}, "axis": {"values": [10, 11, 12, 13, 14], "labelExpr": "datum.value + ':00'", "title": "Time [hours]", "titlePadding": 2}},
     "y": {"field": "min", "type": "quantitative", "scale": {"domain": [0.9, 1.1], "nice": false, "zero": false}, "axis": {"values": [0.9, 0.95, 1.0, 1.05, 1.1], "format": ".2f", "title": "Voltage [p.u.]", "titlePadding": 4}},
     "y2": {"field": "max"}
    }},
   {"data": {"name": "extHil"}, "mark": {"type": "line", "strokeWidth": 1.5, "strokeDash": [4.5, 2]},
    "encoding": {
     "x": {"field": "t", "type": "quantitative"},
     "y": {"field": "v", "type": "quantitative"},
     "color": {"field": "k", "type": "nominal", "scale": {"domain": ["max", "min", "avg"], "range": ["#1f77b4", "#ff7f0e", "#2ca02c"]},
      "legend": {"labelExpr": "datum.value == 'max' ? 'Max. V' : datum.value == 'min' ? 'Min. V' : 'Avg. V'"}}
    }},
   {"data": {"name": "limits"}, "mark": {"type": "rule", "color": "#ff0000", "opacity": 0.7, "strokeDash": [4, 2], "strokeWidth": 1.5},
    "encoding": {"y": {"field": "lim", "type": "quantitative"}}}
  ]
 }
]
}
